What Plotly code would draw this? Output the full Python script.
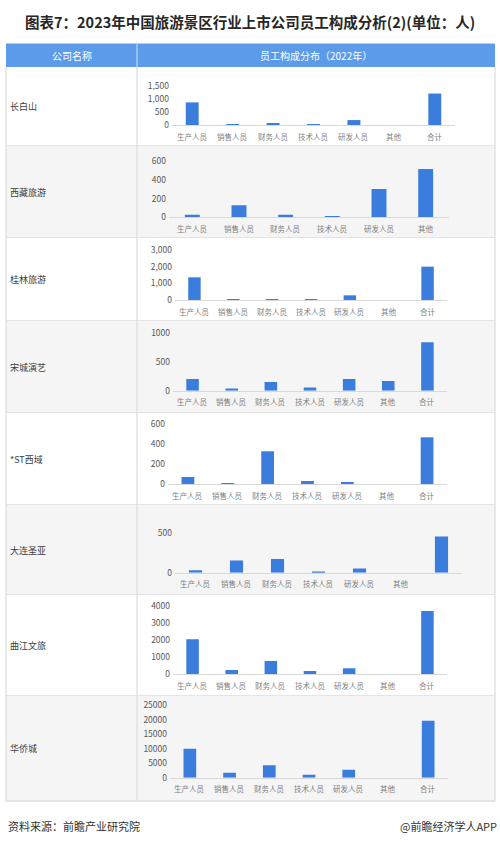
import plotly.graph_objects as go

W, H = 500, 844

# ---------------- data ----------------
title = "图表7：2023年中国旅游景区行业上市公司员工构成分析(2)(单位：人)"
header_left = "公司名称"
header_right = "员工构成分布（2022年）"

companies = ["长白山", "西藏旅游", "桂林旅游", "宋城演艺", "*ST西域", "大连圣亚", "曲江文旅", "华侨城"]

cats7 = ["生产人员", "销售人员", "财务人员", "技术人员", "研发人员", "其他", "合计"]
cats6 = ["生产人员", "销售人员", "财务人员", "技术人员", "研发人员", "其他"]
labels_dalian = ["生产人员", "销售人员", "财务人员", "技术人员", "研发人员", "其他", ""]

v_changbaishan = [870, 30, 50, 30, 190, 0, 1210]
v_xizang = [28, 128, 28, 15, 302, 515]
v_guilin = [1360, 60, 60, 55, 280, 0, 2000]
v_songcheng = [205, 40, 152, 55, 204, 169, 843]
v_stxiyu = [70, 3, 327, 30, 17, 0, 467]
v_dalian = [29, 152, 172, 8, 53, 0, 451]
v_qujiang = [2040, 252, 776, 190, 350, 0, 3690]
v_huaqiao = [9970, 1720, 4240, 1030, 2750, 0, 19600]

source_text = "资料来源：前瞻产业研究院"
brand_text = "@前瞻经济学人APP"

series = [
    (cats7, cats7, v_changbaishan, [0, 1500], 500, ",d"),
    (cats6, cats6, v_xizang, [0, 600], 200, "d"),
    (cats7, cats7, v_guilin, [0, 3000], 1000, ",d"),
    (cats7, cats7, v_songcheng, [0, 1000], 500, "d"),
    (cats7, cats7, v_stxiyu, [0, 600], 200, "d"),
    (cats7, labels_dalian, v_dalian, [0, 600], 500, "d"),
    (cats7, cats7, v_qujiang, [0, 4000], 1000, "d"),
    (cats7, cats7, v_huaqiao, [0, 25000], 5000, "d"),
]

# ---------------- layout geometry (pixels) ----------------
row_edges = [67, 146, 238, 321, 413, 505, 595, 696, 801]
x_dom_px = [(172, 455), (169, 449), (175, 447), (173, 447), (168, 447), (175, 462), (173, 447), (170, 448)]
y_dom_px = [(125, 86), (217.3, 161), (300, 250), (390.7, 333.3), (484, 424), (572.7, 524.5), (674.3, 605.7), (777.7, 705)]

TL, TR = 6, 495
COLX = 137
HEAD_T, HEAD_B = 43.5, 67

def px(x):
    return x / W

def py(y):
    return 1 - y / H

FONT = "Noto Sans CJK SC, Noto Sans, sans-serif"
BAR = "#3b7ddd"

fig = go.Figure()
shapes = []
annotations = []

def note(text, x, y, size, color, xanchor="center"):
    annotations.append(dict(text=text, x=px(x), y=py(y), xref="paper", yref="paper",
                            xanchor=xanchor, yanchor="middle", showarrow=False,
                            font=dict(family=FONT, size=size, color=color)))

# header
shapes.append(dict(type="rect", xref="paper", yref="paper", x0=px(TL), x1=px(TR), y0=py(HEAD_B), y1=py(HEAD_T),
                   fillcolor="#5b9bea", line=dict(width=0), layer="below"))
shapes.append(dict(type="line", xref="paper", yref="paper", x0=px(COLX), x1=px(COLX), y0=py(HEAD_B), y1=py(HEAD_T),
                   line=dict(color="#cfe0f7", width=1), layer="below"))
note(header_left, (TL + COLX) / 2, (HEAD_T + HEAD_B) / 2, 10, "white")
note(header_right, (COLX + TR) / 2, (HEAD_T + HEAD_B) / 2, 10, "white")

# row backgrounds and lines
for i in range(8):
    t, b = row_edges[i], row_edges[i + 1]
    fill = "#ffffff" if i % 2 == 0 else "#f5f5f5"
    shapes.append(dict(type="rect", xref="paper", yref="paper", x0=px(TL), x1=px(TR), y0=py(b), y1=py(t),
                       fillcolor=fill, line=dict(width=0), layer="below"))
    shapes.append(dict(type="line", xref="paper", yref="paper", x0=px(TL), x1=px(TR), y0=py(b), y1=py(b),
                       line=dict(color="#dcdcdc", width=1.5), layer="below"))
    note(companies[i], 8, (t + b) / 2, 9, "#404040", xanchor="left")

# outer borders and column divider
for xv in (TL, COLX, TR):
    shapes.append(dict(type="line", xref="paper", yref="paper", x0=px(xv), x1=px(xv), y0=py(row_edges[-1]), y1=py(HEAD_B),
                       line=dict(color="#dcdcdc", width=1.2), layer="below"))

# charts
for i, (cats, ticklabels, vals, yr, dt, fmt) in enumerate(series):
    n = i + 1
    xa = "x" if n == 1 else f"x{n}"
    ya = "y" if n == 1 else f"y{n}"
    fig.add_trace(go.Bar(x=cats, y=vals, xaxis=xa, yaxis=ya, marker=dict(color=BAR, line=dict(width=0)),
                         showlegend=False, hoverinfo="x+y"))
    x0, x1 = x_dom_px[i]
    yb, yt = y_dom_px[i]
    fig.layout[f"xaxis{'' if n == 1 else n}"] = dict(
        domain=[px(x0), px(x1)], anchor=ya, type="category", categoryorder="array", categoryarray=cats,
        automargin=False, showticklabels=False, ticks="",
        showline=True, linecolor="#d9d9d9", linewidth=1, showgrid=False, zeroline=False, fixedrange=True,
    )
    fig.layout[f"yaxis{'' if n == 1 else n}"] = dict(
        domain=[py(yb), py(yt)], anchor=xa, range=yr, dtick=dt, tick0=0, tickformat=fmt, automargin=False,
        showline=False, showgrid=False, zeroline=False,
        ticks="", ticklabelstandoff=2,
        tickfont=dict(family=FONT, size=8.5, color="#595959"), fixedrange=True,
    )
    # category labels placed through the category axis
    for c, lab in zip(cats, ticklabels):
        if lab:
            annotations.append(dict(text=lab, x=c, xref=xa, y=py(yb + 11), yref="paper",
                                    xanchor="center", yanchor="middle", showarrow=False,
                                    font=dict(family=FONT, size=7.5, color="#7f7f7f")))

# title and footer
note(f"<b>{title}</b>", 250, 22, 14.5, "#262626")
note(source_text, 6, 826, 11, "#333333", xanchor="left")
note(brand_text, 499, 826, 11, "#333333", xanchor="right")

fig.update_layout(
    width=W, height=H, margin=dict(l=0, r=0, t=0, b=0, pad=0, autoexpand=False),
    paper_bgcolor="white", plot_bgcolor="rgba(0,0,0,0)",
    bargap=0.68, shapes=shapes, annotations=annotations,
    font=dict(family=FONT), template="none",
)

fig.write_html("out.html", config={"displayModeBar": False})
